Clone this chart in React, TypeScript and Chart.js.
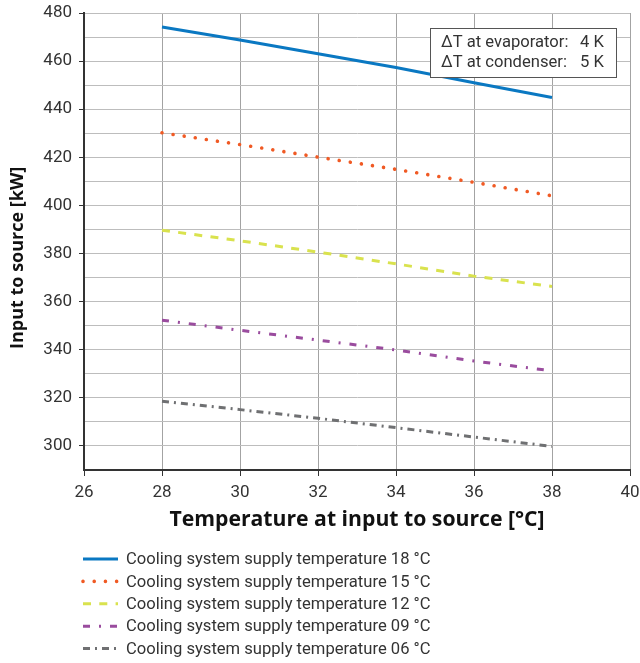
import React, { useEffect, useRef } from 'react';
import { Chart, registerables } from 'chart.js';

Chart.register(...registerables);

// ---- data ----
const temperatures = [28, 30, 32, 34, 36, 38];
const supply18 = [474.2, 468.8, 463.1, 457.3, 451.0, 444.9];
const supply15 = [430.2, 425.3, 420.1, 415.0, 409.6, 404.0];
const supply12 = [389.7, 385.3, 380.6, 375.7, 370.6, 366.3];
const supply09 = [352.3, 348.1, 344.0, 339.9, 335.3, 331.2];
const supply06 = [318.6, 315.1, 311.5, 307.6, 303.7, 299.8];
const seriesLabels = [
  'Cooling system supply temperature 18 °C',
  'Cooling system supply temperature 15 °C',
  'Cooling system supply temperature 12 °C',
  'Cooling system supply temperature 09 °C',
  'Cooling system supply temperature 06 °C',
];
const xMin = 26;
const xMax = 40;
const xStep = 2;
const yMin = 290;
const yMax = 480;
const yGridStep = 10;
const yLabelStep = 20;
const xTitle = 'Temperature at input to source [°C]';
const yTitle = 'Input to source [kW]';
const noteLabels = ['ΔT at evaporator:', 'ΔT at condenser:'];
const noteValues = ['4 K', '5 K'];

const FONT = 'Roboto';
const TITLE_FONT = "'Open Sans'";
const TEXT = '#333333';

const toPoints = (vals: number[]) => vals.map((v, i) => ({ x: temperatures[i], y: v }));

const legendPlugin = {
  id: 'bottomLegend',
  afterDraw(chart: any) {
    const { ctx, chartArea } = chart;
    chart.data.datasets.forEach((ds: any, i: number) => {
      const y = chartArea.bottom + 89 + i * 22.4;
      const x0 = chartArea.left - 1;
      ctx.save();
      ctx.strokeStyle = ds.borderColor;
      ctx.lineWidth = ds.borderWidth;
      ctx.lineCap = ds.borderCapStyle || 'butt';
      ctx.setLineDash(ds.borderDash || []);
      ctx.beginPath();
      ctx.moveTo(x0, y);
      ctx.lineTo(x0 + 35, y);
      ctx.stroke();
      ctx.setLineDash([]);
      ctx.fillStyle = TEXT;
      ctx.font = `16.6px ${FONT}`;
      ctx.textBaseline = 'middle';
      ctx.textAlign = 'left';
      ctx.fillText(ds.label, x0 + 43, y + 1);
      ctx.restore();
    });
  },
};

const notePlugin = {
  id: 'noteBox',
  afterDatasetsDraw(chart: any) {
    const { ctx, chartArea } = chart;
    const left = chartArea.right - 200;
    const top = chartArea.top + 15;
    const w = 186;
    const h = 49;
    ctx.save();
    ctx.fillStyle = '#ffffff';
    ctx.fillRect(left, top, w, h);
    ctx.strokeStyle = '#555555';
    ctx.lineWidth = 1;
    ctx.strokeRect(left + 0.5, top + 0.5, w, h);
    ctx.fillStyle = TEXT;
    ctx.font = `16.6px ${FONT}`;
    ctx.textBaseline = 'middle';
    noteLabels.forEach((t, i) => {
      const y = top + 15 + i * 20;
      ctx.textAlign = 'left';
      ctx.fillText(t, left + 11, y);
      ctx.fillText(noteValues[i], left + 150, y);
    });
    ctx.restore();
  },
};

export default function App() {
  const ref = useRef<HTMLCanvasElement | null>(null);

  useEffect(() => {
    document.body.style.margin = '0';
    const canvas = ref.current;
    if (!canvas) return;
    const chart = new Chart(canvas, {
      type: 'line',
      data: {
        datasets: [
          {
            label: seriesLabels[0],
            data: toPoints(supply18),
            borderColor: '#0a78c2',
            borderWidth: 3,
            pointRadius: 0,
            tension: 0,
          },
          {
            label: seriesLabels[1],
            data: toPoints(supply15),
            borderColor: '#f05a24',
            borderWidth: 3.6,
            borderDash: [0.01, 11.2],
            borderCapStyle: 'round',
            pointRadius: 0,
            tension: 0,
          },
          {
            label: seriesLabels[2],
            data: toPoints(supply12),
            borderColor: '#d9e24e',
            borderWidth: 3,
            borderDash: [8, 8.3],
            pointRadius: 0,
            tension: 0,
          },
          {
            label: seriesLabels[3],
            data: toPoints(supply09),
            borderColor: '#9a4c9e',
            borderWidth: 3,
            borderDash: [7, 9, 2, 9],
            pointRadius: 0,
            tension: 0,
          },
          {
            label: seriesLabels[4],
            data: toPoints(supply06),
            borderColor: '#6f7072',
            borderWidth: 3,
            borderDash: [7, 5, 2, 5],
            pointRadius: 0,
            tension: 0,
          },
        ] as any,
      },
      options: {
        animation: false,
        responsive: false,
        maintainAspectRatio: false,
        layout: { padding: { left: 0, top: 13, right: 10, bottom: 123 } },
        plugins: {
          legend: { display: false },
          tooltip: { enabled: false },
        },
        scales: {
          x: {
            type: 'linear',
            min: xMin,
            max: xMax,
            afterFit: (s: any) => {
              s.height = 70;
              s.paddingLeft = 0;
              s.paddingRight = 0;
            },
            ticks: {
              stepSize: xStep,
              autoSkip: false,
              maxRotation: 0,
              color: TEXT,
              padding: 7,
              font: { family: FONT, size: 17 },
            },
            grid: {
              color: '#a3a3a3',
              lineWidth: 1,
              tickColor: '#333333',
              tickLength: 6,
              drawTicks: true,
            },
            border: { color: '#333333', width: 2 },
            title: {
              display: true,
              text: xTitle,
              color: '#111111',
              font: { family: TITLE_FONT, size: 21.2, weight: 'bold' },
              padding: { top: 0, bottom: 7 },
            },
          },
          y: {
            type: 'linear',
            min: yMin,
            max: yMax,
            afterFit: (s: any) => {
              s.width = 84;
              s.paddingTop = 0;
              s.paddingBottom = 0;
            },
            ticks: {
              stepSize: yGridStep,
              autoSkip: false,
              color: TEXT,
              padding: 7,
              font: { family: FONT, size: 17 },
              callback: (v: any) => (Number(v) % yLabelStep === 0 ? String(v) : ''),
            },
            grid: {
              color: '#bdbdbd',
              lineWidth: 1,
              tickLength: 5,
              tickColor: (c: any) =>
                c.tick && c.tick.value % yLabelStep === 0 ? '#333333' : 'rgba(0,0,0,0)',
            },
            border: { color: '#333333', width: 2 },
            title: {
              display: true,
              text: yTitle + '       ',
              color: '#111111',
              font: { family: TITLE_FONT, size: 18, weight: 'bold' },
              padding: { top: 7, bottom: 0 },
            },
          },
        },
      } as any,
      plugins: [notePlugin, legendPlugin],
    });
    return () => chart.destroy();
  }, []);

  return <canvas ref={ref} width={640} height={663} style={{ display: 'block' }} />;
}
